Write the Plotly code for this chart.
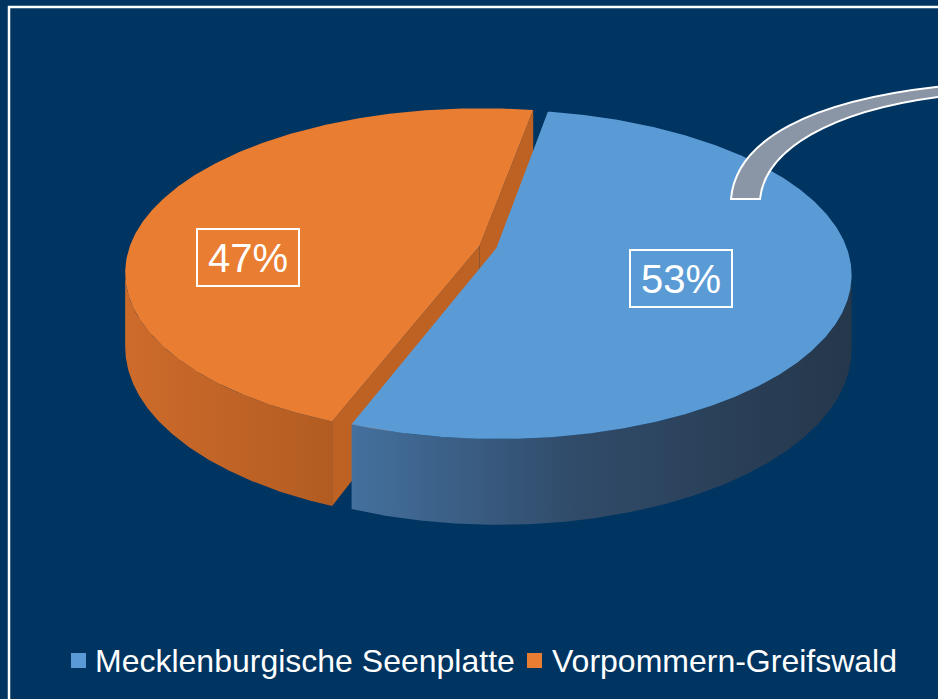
import numpy as np
import plotly.graph_objects as go

# ---------------- data ----------------
categories = ["Mecklenburgische Seenplatte", "Vorpommern-Greifswald"]
shares = [53, 47]
label_texts = ["53%", "47%"]

# ---------------- style ----------------
top_colors = ["#5B9BD5", "#E97D31"]
side_scales = [
    [[0, "#44709E"], [0.45, "#304B69"], [1, "#25374B"]],
    [[0, "#CD6B2B"], [1, "#B25C22"]],
]
radial_colors = ["#3F6894", "#BE6224"]
BG = "#003461"
FONT = "Arial, Liberation Sans, sans-serif"

W, H = 938, 699
CX, CY = 488, 247          # pie centre (px)
RA, RB = 350, 160          # semi axes of the tilted disc
K = 0.16                   # perspective strength
DEPTH = 72                 # thickness
EXPLODE = 0.025
START = 10.0               # first slice start angle (deg, clockwise from top)

label_pos = [(681, 278), (248, 257)]
legend_x = [(71, 93), (527, 550)]


def proj(theta, r, z, ou, ov):
    t = np.radians(theta)
    u = ou + r * np.sin(t)
    v = ov + r * np.cos(t)
    s = 1.0 / (1.0 + K * v)
    return CX + RA * u * s, CY - RB * v * s + DEPTH * z * s


def arc(a0, a1, z, ou, ov, n=None):
    if n is None:
        n = max(2, int(abs(a1 - a0) * 2) + 1)
    th = np.linspace(a0, a1, n)
    return proj(th, 1.0, z, ou, ov)


fig = go.Figure()

total = float(sum(shares))
angles = []
acc = START
for v in shares:
    a0 = acc
    a1 = acc + 360.0 * v / total
    angles.append((a0, a1))
    acc = a1

sil = np.degrees(np.arccos(-K))
vis_lo, vis_hi = sil, 360 - sil


def add_poly(xs, ys, color=None, grad=None):
    kw = dict(x=list(xs), y=list(ys), mode="lines", fill="toself",
              line=dict(width=0), hoverinfo="skip", showlegend=False)
    if grad is not None:
        kw["fillgradient"] = dict(type="horizontal", colorscale=grad,
                                  start=float(min(xs)), stop=float(max(xs)))
        kw["fillcolor"] = grad[0][1]
    else:
        kw["fillcolor"] = color
    fig.add_trace(go.Scatter(**kw))


order = [1, 0]
for i in order:
    a0, a1 = angles[i]
    mid = np.radians((a0 + a1) / 2)
    ou, ov = EXPLODE * np.sin(mid), EXPLODE * np.cos(mid)
    cam = np.array([0.0, -1.0 / K]) - np.array([ou, ov])

    # radial walls
    for edge, sign in ((a0, -1), (a1, 1)):
        t = np.radians(edge)
        normal = sign * np.array([np.cos(t), -np.sin(t)])
        if normal @ cam > 0:
            cx0, cy0 = proj(edge, 0, 0, ou, ov)
            ex0, ey0 = proj(edge, 1, 0, ou, ov)
            ex1, ey1 = proj(edge, 1, 1, ou, ov)
            cx1, cy1 = proj(edge, 0, 1, ou, ov)
            add_poly([cx0, ex0, ex1, cx1], [cy0, ey0, ey1, cy1], color=radial_colors[i])

    # outer front wall
    for shift in (-360, 0, 360):
        lo = max(a0 + shift, vis_lo)
        hi = min(a1 + shift, vis_hi)
        if hi > lo:
            xt, yt = arc(lo, hi, 0, ou, ov)
            xb, yb = arc(hi, lo, 1, ou, ov)
            add_poly(np.concatenate([xt, xb]), np.concatenate([yt, yb]), grad=side_scales[i])

    # top face
    xc, yc = proj(a0, 0, 0, ou, ov)
    xa, ya = arc(a0, a1, 0, ou, ov)
    add_poly(np.concatenate([[xc], xa, [xc]]), np.concatenate([[yc], ya, [yc]]), color=top_colors[i])

annotations = []
for i, txt in enumerate(label_texts):
    x, y = label_pos[i]
    annotations.append(dict(x=x, y=y, xref="x", yref="y", text=txt, showarrow=False,
                            font=dict(family=FONT, size=40, color="white"),
                            bordercolor="white", borderwidth=2, borderpad=4,
                            width=92, height=47, align="center", valign="middle"))

shapes = [
    # outer frame
    dict(type="rect", xref="x", yref="y", x0=9, y0=7, x1=W + 20, y1=H + 20,
         line=dict(color="white", width=2.5), fillcolor="rgba(0,0,0,0)", layer="below"),
    # callout ribbon
    dict(type="path", xref="x", yref="y",
         path="M 731,199 C 736,140 810,100 945,86 L 945,96 C 830,110 765,150 760,199 Z",
         fillcolor="#8A95A6", line=dict(color="white", width=2)),
]

for i, name in enumerate(categories):
    sx, tx = legend_x[i]
    shapes.append(dict(type="rect", xref="x", yref="y", x0=sx, x1=sx + 15, y0=653, y1=668,
                       fillcolor=top_colors[i], line=dict(width=0)))
    annotations.append(dict(x=tx, y=661, xref="x", yref="y", text=name, showarrow=False,
                            xanchor="left", yanchor="middle",
                            font=dict(family=FONT, size=32, color="white")))

fig.update_layout(
    width=W, height=H, margin=dict(l=0, r=0, t=0, b=0),
    paper_bgcolor=BG, plot_bgcolor=BG,
    xaxis=dict(range=[0, W], visible=False, fixedrange=True),
    yaxis=dict(range=[H, 0], visible=False, fixedrange=True),
    shapes=shapes, annotations=annotations, showlegend=False,
)

fig.write_html("out.html", config={"displayModeBar": False},
               post_script="document.body.style.margin='0';document.body.style.overflow='hidden';")
